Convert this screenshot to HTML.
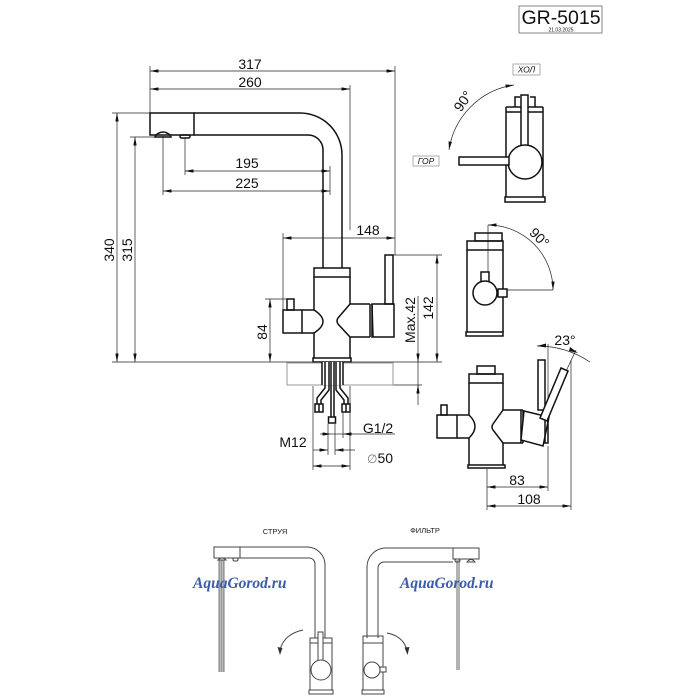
<!DOCTYPE html>
<html><head><meta charset="utf-8"><style>
html,body{margin:0;padding:0;background:#fff;}
svg{display:block;}
text{font-family:"Liberation Sans",sans-serif;fill:#111;}
.o{fill:none;stroke:#111;stroke-width:1.5;}
.ow{fill:#fff;stroke:#111;stroke-width:1.5;}
.d{fill:none;stroke:#222;stroke-width:0.7;}
.l{fill:none;stroke:#444;stroke-width:1;}
.lw{fill:#fff;stroke:#444;stroke-width:1;}
.t{font-size:14px;text-anchor:middle;}
.wm{font-family:"Liberation Serif",serif;font-style:italic;font-weight:bold;font-size:15.5px;fill:#3b5ca8;}
</style></head><body>
<svg width="700" height="700" viewBox="0 0 700 700">
<defs>
<marker id="a" viewBox="0 0 10 4" refX="10" refY="2" markerWidth="9" markerHeight="3.4" orient="auto-start-reverse" markerUnits="userSpaceOnUse"><path d="M0,0 L10,2 L0,4z" fill="#111"/></marker>
</defs>

<!-- title block -->
<rect x="519" y="6" width="83" height="27" fill="none" stroke="#666" stroke-width="0.8"/>
<text x="561" y="24" style="font-size:19.5px;text-anchor:middle;">GR-5015</text>
<text x="561" y="31.5" style="font-size:5px;text-anchor:middle;">21.03.2025</text>

<!-- ===== MAIN SIDE VIEW ===== -->
<!-- dims top -->
<line class="d" x1="150" y1="71" x2="395" y2="71" marker-start="url(#a)" marker-end="url(#a)"/>
<text class="t" x="250" y="69">317</text>
<line class="d" x1="150" y1="89" x2="350" y2="89" marker-start="url(#a)" marker-end="url(#a)"/>
<text class="t" x="250" y="87">260</text>
<line class="d" x1="150" y1="66" x2="150" y2="113"/>
<line class="d" x1="350" y1="85" x2="350" y2="230"/>
<line class="d" x1="395" y1="66" x2="395" y2="255"/>

<!-- 340 / 315 -->
<line class="d" x1="117" y1="113" x2="117" y2="362" marker-start="url(#a)" marker-end="url(#a)"/>
<line class="d" x1="135" y1="137" x2="135" y2="362" marker-start="url(#a)" marker-end="url(#a)"/>
<line class="d" x1="112" y1="113" x2="150" y2="113"/>
<line class="d" x1="130" y1="137" x2="157" y2="137"/>
<text class="t" transform="translate(114,250) rotate(-90)">340</text>
<text class="t" transform="translate(132,250) rotate(-90)">315</text>
<line class="d" x1="112" y1="362" x2="442" y2="362"/>

<!-- 195 / 225 -->
<line class="d" x1="185" y1="138" x2="185" y2="175"/>
<line class="d" x1="163" y1="136" x2="163" y2="195"/>
<line class="d" x1="330" y1="166" x2="330" y2="195"/>
<line class="d" x1="185" y1="171" x2="330" y2="171" marker-start="url(#a)" marker-end="url(#a)"/>
<line class="d" x1="163" y1="191" x2="330" y2="191" marker-start="url(#a)" marker-end="url(#a)"/>
<text class="t" x="247" y="168">195</text>
<text class="t" x="247" y="188">225</text>

<!-- 148 -->
<line class="d" x1="283" y1="238" x2="395" y2="238" marker-start="url(#a)" marker-end="url(#a)"/>
<line class="d" x1="283" y1="233" x2="283" y2="310"/>
<text class="t" x="368" y="235">148</text>

<!-- 84 -->
<line class="d" x1="270" y1="299" x2="270" y2="362" marker-start="url(#a)" marker-end="url(#a)"/>
<line class="d" x1="265" y1="299" x2="287" y2="299"/>
<text class="t" transform="translate(267,332) rotate(-90)">84</text>

<!-- 142 -->
<line class="d" x1="437" y1="255" x2="437" y2="362" marker-start="url(#a)" marker-end="url(#a)"/>
<line class="d" x1="393" y1="255" x2="442" y2="255"/>
<text class="t" transform="translate(433,308) rotate(-90)">142</text>

<!-- Max.42 -->
<line class="d" x1="418" y1="296" x2="418" y2="362" marker-end="url(#a)"/>
<line class="d" x1="418" y1="405" x2="418" y2="385" marker-end="url(#a)"/>
<line class="d" x1="418" y1="362" x2="418" y2="385"/>
<line class="d" x1="393" y1="385" x2="422" y2="385"/>
<text class="t" transform="translate(415,320) rotate(-90)">Max.42</text>

<!-- spout -->
<rect class="o" x="150" y="113" width="44" height="22"/>
<path class="o" d="M194,113 H300 A42,42 0 0 1 342,155 V268"/>
<path class="o" d="M194,135 H308 A15,15 0 0 1 323,150 V268"/>
<path class="o" d="M155,137 H171 L170,135 Q163,129 156,135 Z" stroke-width="1.2"/>
<rect class="o" x="180" y="135" width="10" height="3" rx="1.5" stroke-width="1.2"/>

<!-- body -->
<rect class="o" x="314" y="268" width="36" height="9"/>
<path class="o" d="M314,277 V310 M314,333 V358 M350,277 V304 M350,337 V358"/>
<rect class="o" x="283" y="310" width="19" height="23"/>
<rect class="o" x="287" y="299" width="7" height="11"/>
<path class="o" d="M302,310 H314 Q332,321.5 314,333 H302"/>
<path class="o" d="M370,304 H350 L338,318 Q336,321 338,324 L350,337 H370"/>
<path class="o" d="M370,304 V337 M372,304 L373,337"/>
<rect class="o" x="372" y="304" width="22" height="33"/>
<rect class="o" x="385" y="255" width="8" height="49"/>
<rect class="o" x="313" y="358" width="38" height="4"/>

<!-- countertop -->
<rect x="287" y="363" width="106" height="22" fill="none" stroke="#999" stroke-width="1"/>
<rect x="322" y="362" width="21" height="23" fill="#fff" stroke="none"/>
<path class="o" d="M322,362 V385 M343,362 V385"/>

<!-- hoses -->
<path class="o" stroke-width="1" d="M325,362 V388 L317,398 V404 M329,362 V390 L321,400 V404"/>
<path class="o" stroke-width="1" d="M340,362 V388 L348,398 V404 M336,362 V390 L344,400 V404"/>
<rect class="o" stroke-width="1" x="315" y="404" width="8" height="8"/>
<line class="o" stroke-width="0.8" x1="319" y1="404" x2="319" y2="412"/>
<rect class="o" stroke-width="1" x="342" y="404" width="8" height="8"/>
<line class="o" stroke-width="0.8" x1="346" y1="404" x2="346" y2="412"/>
<path class="o" stroke-width="1" d="M331,362 V417 M334,362 V417"/>
<rect class="o" stroke-width="1" x="328.5" y="417" width="7" height="6"/>

<!-- bottom dims -->
<line class="d" x1="313" y1="386" x2="313" y2="470"/>
<line class="d" x1="350" y1="386" x2="350" y2="470"/>
<line class="d" x1="328" y1="424" x2="328" y2="455"/>
<line class="d" x1="335" y1="424" x2="335" y2="455"/>
<line class="d" x1="343" y1="413" x2="343" y2="438"/>
<line class="d" x1="320" y1="434" x2="331" y2="434" marker-end="url(#a)"/>
<line class="d" x1="395" y1="434" x2="343" y2="434" marker-end="url(#a)"/>
<line class="d" x1="331" y1="434" x2="343" y2="434"/>
<text class="t" x="378" y="433">G1/2</text>
<line class="d" x1="313" y1="450" x2="328" y2="450" marker-end="url(#a)"/>
<line class="d" x1="355" y1="450" x2="335" y2="450" marker-end="url(#a)"/>
<text class="t" x="293" y="447">M12</text>
<line class="d" x1="313" y1="466" x2="350" y2="466" marker-start="url(#a)" marker-end="url(#a)"/>
<text class="t" x="380" y="463"><tspan style="font-family:'DejaVu Sans',sans-serif;font-size:12px;fill:#777;">∅</tspan>50</text>

<!-- ===== TOP VIEW ===== -->
<path class="d" d="M449,150 A77,77 0 0 1 514,85" marker-start="url(#a)" marker-end="url(#a)"/>
<text class="t" transform="translate(467,104) rotate(-55)">90°</text>
<rect x="513" y="64" width="27" height="11" fill="none" stroke="#999" stroke-width="0.8"/>
<text x="526.5" y="72.5" style="font-size:8.5px;font-style:italic;text-anchor:middle;">ХОЛ</text>
<rect x="413" y="156" width="26" height="10" fill="none" stroke="#999" stroke-width="0.8"/>
<text x="426" y="164" style="font-size:8.5px;font-style:italic;text-anchor:middle;">ГОР</text>
<path class="o" d="M506,107 H543 M506,112 H543 M506,107 V197 M543,107 V197"/>
<path class="o" stroke-width="1.2" d="M515,107 V97 H520 M535,107 V97 H530"/>
<rect class="ow" x="521" y="95" width="7" height="52"/>
<circle class="ow" cx="525" cy="162" r="17"/>
<rect class="ow" x="459" y="157" width="50" height="8"/>
<rect class="o" x="505" y="197" width="40" height="5"/>

<!-- ===== FRONT VIEW ===== -->
<line class="d" x1="488" y1="225" x2="488" y2="272"/>
<line class="d" x1="507" y1="290" x2="553" y2="290"/>
<path class="d" d="M488,225 A65,65 0 0 1 553,290" marker-start="url(#a)" marker-end="url(#a)"/>
<text class="t" transform="translate(536,241) rotate(45)">90°</text>
<rect class="o" x="475" y="233" width="27" height="8"/>
<rect class="o" x="467" y="241" width="36" height="9"/>
<path class="o" d="M467,250 V332 M503,250 V332"/>
<rect class="o" x="466" y="332" width="37" height="4"/>
<rect class="ow" x="481" y="272" width="8" height="10"/>
<rect class="ow" x="498" y="289" width="9" height="8"/>
<circle class="ow" cx="485" cy="293" r="12"/>

<!-- ===== SIDE VIEW (23°) ===== -->
<line class="d" x1="548" y1="344" x2="548" y2="410"/>
<line class="d" x1="545" y1="416" x2="576" y2="350"/>
<path class="d" d="M537,346 A95,95 0 0 1 590,362"/>
<path d="M537,346 L546,343.5 L546,347.5z" fill="#111"/>
<path d="M578,353 L569,351 L570,347z" fill="#111"/>
<text class="t" x="565" y="345">23°</text>
<rect class="o" x="477" y="366" width="18" height="8"/>
<rect class="o" x="469" y="374" width="34" height="9"/>
<path class="o" d="M469,383 V415 M469,438 V465 M503,383 V410 M503,443 V465"/>
<rect class="o" x="437" y="415" width="20" height="23"/>
<rect class="o" x="441" y="405" width="6" height="10"/>
<path class="o" d="M457,415 H469 Q481,426.5 469,438 H457"/>
<path class="o" d="M523,410 H503 L493,424 Q491,427 493,430 L503,443 H523"/>
<path class="o" d="M521,410 V443 M523,410 V443"/>
<rect class="o" x="538" y="360" width="7" height="50"/>
<polygon class="ow" points="524,411 549,417 543,446 521,440"/>
<rect class="o" x="545" y="410" width="3" height="33"/>
<polygon class="ow" points="561,368 568,371 547,421 540,418"/>
<rect class="o" x="468" y="465" width="37" height="3"/>
<line class="d" x1="487" y1="469" x2="487" y2="510"/>
<line class="d" x1="548" y1="446" x2="548" y2="491"/>
<line class="d" x1="571" y1="360" x2="571" y2="510"/>
<line class="d" x1="487" y1="487" x2="548" y2="487" marker-start="url(#a)" marker-end="url(#a)"/>
<line class="d" x1="487" y1="506" x2="571" y2="506" marker-start="url(#a)" marker-end="url(#a)"/>
<text class="t" x="517" y="485">83</text>
<text class="t" x="529" y="504">108</text>

<!-- ===== BOTTOM LEFT (СТРУЯ) ===== -->
<text x="275" y="534" style="font-size:7.5px;text-anchor:middle;fill:#222;">СТРУЯ</text>
<rect x="218" y="560" width="7" height="112" fill="#bdbdbd"/>
<path d="M219.5,560 V672 M221.5,560 V672 M223.5,560 V672" stroke="#808080" stroke-width="0.6"/>
<rect class="l" x="214" y="547" width="26" height="11"/>
<path class="l" d="M240,547 H307 A18,18 0 0 1 325,565 V638"/>
<path class="l" d="M240,558 H309 A6,6 0 0 1 315,564 V638"/>
<path class="l" d="M218,560 Q222,556 226,560 Z"/>
<rect class="l" x="233" y="558" width="5" height="3" rx="1.5"/>
<rect class="l" x="310" y="638" width="22" height="5"/>
<path class="l" d="M310,643 V690 M332,643 V690"/>
<rect class="l" x="309" y="690" width="24" height="4"/>
<rect class="lw" x="318" y="632" width="5" height="30"/>
<circle class="lw" cx="321" cy="670" r="10"/>
<path class="l" d="M303,630 Q284,634 280,650"/>
<path d="M280,655 L277.5,647 L282.5,648z" fill="#333"/>
<text class="wm" x="193" y="588">AquaGorod.ru</text>

<!-- ===== BOTTOM RIGHT (ФИЛЬТР) ===== -->
<text x="425" y="533" style="font-size:7.5px;text-anchor:middle;fill:#222;">ФИЛЬТР</text>
<rect x="456" y="560" width="4" height="110" fill="#c4c4c4"/>
<path d="M457,560 V670 M459,560 V670" stroke="#8a8a8a" stroke-width="0.6"/>
<rect class="l" x="453" y="548" width="26" height="11"/>
<path class="l" d="M367,638 V567 A19,19 0 0 1 386,548 H453"/>
<path class="l" d="M378,638 V568 A6,6 0 0 1 384,562 H453"/>
<rect class="l" x="455" y="559" width="5" height="3" rx="1.5"/>
<path class="l" d="M467,562 Q471,557 475,562 Z"/>
<rect class="l" x="363" y="636" width="20" height="7"/>
<path class="l" d="M363,643 V690 M383,643 V690"/>
<rect class="l" x="362" y="690" width="22" height="4"/>
<rect class="lw" x="380" y="667" width="6" height="5"/>
<circle class="lw" cx="372" cy="670" r="8"/>
<path class="l" d="M387,633 Q403,636 407,650"/>
<path d="M407.5,655 L404.5,647.5 L409.5,647z" fill="#333"/>
<text class="wm" x="400" y="588">AquaGorod.ru</text>
</svg>
</body></html>
